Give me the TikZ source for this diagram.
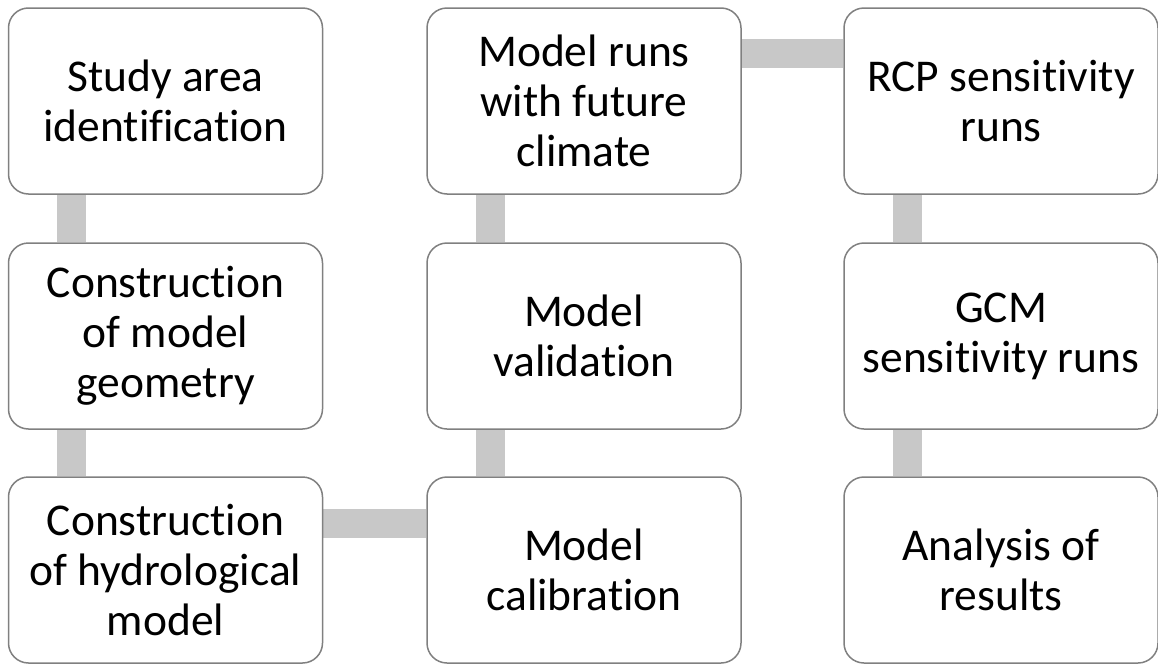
\documentclass[tikz,border=0pt]{standalone}
\usepackage{fontspec}
\setmainfont{Carlito}[Ligatures=NoCommon]
\usetikzlibrary{backgrounds}
\definecolor{boxline}{HTML}{808080}
\definecolor{barfill}{HTML}{C8C8C8}
\tikzset{
  stepbox/.style={draw=boxline, line width=1.5pt, fill=white, rounded corners=20pt,
    minimum width=314pt, minimum height=186pt, inner sep=0pt, align=center,
    font=\fontsize{45.5}{50}\selectfont, text=black},
  barline/.style={draw=barfill, line width=29pt}
}
\begin{document}
\begin{tikzpicture}[x=1pt,y=-1pt]
\useasboundingbox (0,0) rectangle (1158,664);
\node[stepbox] (a1) at (165.5,101) {Study area\\identification};
\node[stepbox] (a2) at (165.5,336) {Construction\\of model\\geometry};
\node[stepbox] (a3) at (165.5,570) {Construction\\of hydrological\\model};
\node[stepbox] (b3) at (584,570) {Model\\calibration};
\node[stepbox] (b2) at (584,336) {Model\\validation};
\node[stepbox] (b1) at (584,101) {Model runs\\with future\\climate};
\node[stepbox] (c1) at (1001,101) {RCP sensitivity\\runs};
\node[stepbox] (c2) at (1001,336) {GCM\\sensitivity runs};
\node[stepbox] (c3) at (1001,570) {Analysis of\\results};
\begin{pgfonlayer}{background}
\draw[barline] ([xshift=64pt]a1.south west) -- ([xshift=64pt]a2.north west);
\draw[barline] ([xshift=64pt]a2.south west) -- ([xshift=64pt]a3.north west);
\draw[barline] ([yshift=-47pt]a3.north east) -- ([yshift=-47pt]b3.north west);
\draw[barline] ([xshift=64pt]b3.north west) -- ([xshift=64pt]b2.south west);
\draw[barline] ([xshift=64pt]b2.north west) -- ([xshift=64pt]b1.south west);
\draw[barline] ([yshift=-46pt]b1.north east) -- ([yshift=-46pt]c1.north west);
\draw[barline] ([xshift=64pt]c1.south west) -- ([xshift=64pt]c2.north west);
\draw[barline] ([xshift=64pt]c2.south west) -- ([xshift=64pt]c3.north west);
\end{pgfonlayer}
\end{tikzpicture}
\end{document}
